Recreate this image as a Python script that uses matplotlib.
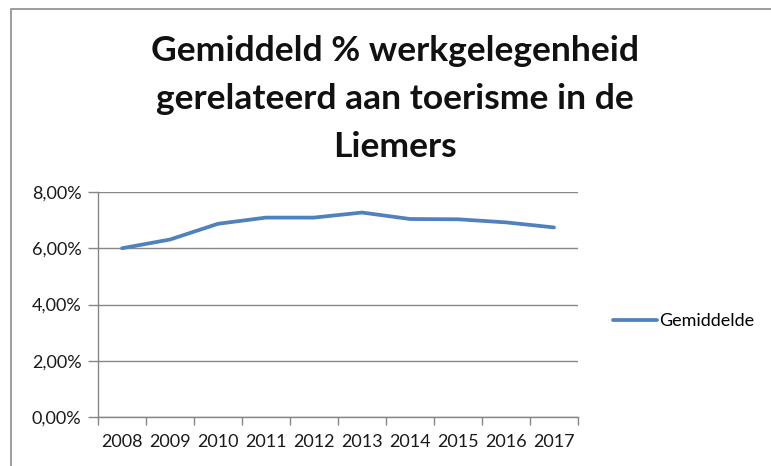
import numpy as np
import matplotlib.pyplot as plt
from matplotlib.patches import Rectangle
from matplotlib.ticker import FixedLocator

# values (percent)
years = ['2008', '2009', '2010', '2011', '2012', '2013', '2014', '2015', '2016', '2017']
gemiddelde = [6.00, 6.31, 6.87, 7.09, 7.09, 7.27, 7.04, 7.03, 6.92, 6.74]
y_ticks = [0, 2, 4, 6, 8]
y_labels = ['0,00%', '2,00%', '4,00%', '6,00%', '8,00%']

title = 'Gemiddeld % werkgelegenheid\ngerelateerd aan toerisme in de\nLiemers'
line_color = '#4F81BD'
grid_color = '#868686'

plt.rcParams['font.family'] = ['Lato', 'DejaVu Sans']

fig = plt.figure(figsize=(7.71, 4.66), dpi=100)
fig.patch.set_facecolor('white')

# outer chart border (only top and left visible in the screenshot)
fig.patches.append(Rectangle((11 / 771, -0.1), 1.2, 1 - 9 / 466 + 0.1,
                             transform=fig.transFigure, fill=False,
                             edgecolor='#8c8c8c', linewidth=1.2))

ax = fig.add_axes([98 / 771, 49 / 466, 480 / 771, 225 / 466])
x = np.arange(len(years))
ax.plot(x, gemiddelde, color=line_color, linewidth=2.7, label='Gemiddelde',
        solid_capstyle='round', solid_joinstyle='round')

ax.set_xlim(-0.5, len(years) - 0.5)
ax.set_ylim(0, 8)
ax.set_yticks(y_ticks)
ax.set_yticklabels(y_labels)
ax.set_xticks(x)
ax.set_xticklabels(years)
ax.xaxis.set_minor_locator(FixedLocator(np.arange(-0.5, len(years), 1)))

ax.tick_params(axis='x', which='major', length=0, pad=12, labelsize=13, labelcolor='#1a1a1a')
ax.tick_params(axis='x', which='minor', length=6, direction='out', color=grid_color, width=1)
ax.tick_params(axis='y', length=7, direction='out', color=grid_color, width=1,
               pad=5, labelsize=13, labelcolor='#1a1a1a')

ax.grid(axis='y', color=grid_color, linewidth=1)
ax.set_axisbelow(True)
for s in ['top', 'right']:
    ax.spines[s].set_visible(False)
for s in ['left', 'bottom']:
    ax.spines[s].set_color(grid_color)
    ax.spines[s].set_linewidth(1)

fig.text(395 / 771, 1 - 99 / 466, title, ha='center', va='center',
         fontsize=25.5, fontweight='bold', color='#111111', linespacing=1.62)

fig.legend(loc='center left', bbox_to_anchor=(597 / 771, 1 - 321 / 466),
           frameon=False, fontsize=13, handlelength=2.4, handletextpad=0.15)

fig.savefig('out.png', dpi=100)
